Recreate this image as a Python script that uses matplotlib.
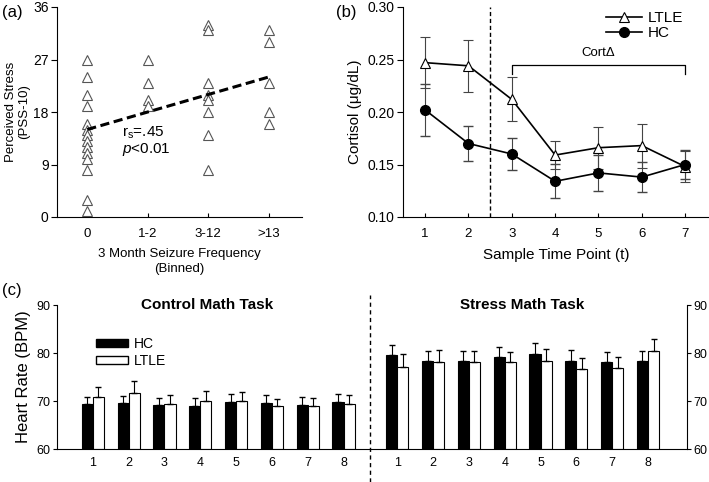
import numpy as np
import matplotlib
matplotlib.use('Agg')
from matplotlib import pyplot as plt
from matplotlib.patches import Patch
from matplotlib.lines import Line2D

plt.rcParams['font.family'] = ['Liberation Sans', 'DejaVu Sans']
plt.rcParams['mathtext.fontset'] = 'custom'
plt.rcParams['mathtext.rm'] = 'Liberation Sans'
plt.rcParams['mathtext.it'] = 'Liberation Sans:italic'

# (a) perceived stress by seizure frequency bin
bins = ['0', '1-2', '3-12', '>13']
pss_0 = [27, 24, 21, 19, 16, 15, 14, 13, 12, 11, 10, 8, 3, 1]
pss_12 = [27, 23, 20, 19]
pss_312 = [33, 32, 23, 21, 20, 18, 14, 8]
pss_13 = [32, 30, 23, 18, 16]
fit_ends = [15.0, 24.0]

# (b) cortisol over sample time points
t_points = [1, 2, 3, 4, 5, 6, 7]
ltle_cort = [0.247, 0.244, 0.212, 0.159, 0.166, 0.168, 0.148]
ltle_cort_err = [0.024, 0.025, 0.021, 0.013, 0.020, 0.021, 0.015]
hc_cort = [0.202, 0.170, 0.160, 0.134, 0.142, 0.138, 0.150]
hc_cort_err = [0.025, 0.017, 0.015, 0.016, 0.017, 0.014, 0.014]

# (c) heart rate during math tasks
blocks = ['1', '2', '3', '4', '5', '6', '7', '8']
hc_ctrl = [69.3, 69.5, 69.1, 69.0, 69.7, 69.5, 69.1, 69.8]
hc_ctrl_err = [1.5, 1.6, 1.6, 1.7, 1.7, 1.75, 1.7, 1.7]
ltle_ctrl = [70.8, 71.7, 69.3, 70.1, 70.1, 68.9, 69.0, 69.4]
ltle_ctrl_err = [2.1, 2.5, 1.9, 2.0, 1.8, 1.6, 1.6, 1.8]
hc_stress = [79.6, 78.4, 78.4, 79.1, 79.7, 78.4, 78.2, 78.4]
hc_stress_err = [2.1, 2.1, 2.1, 2.1, 2.3, 2.2, 2.0, 2.1]
ltle_stress = [77.0, 78.05, 78.05, 78.05, 78.4, 76.7, 76.9, 80.4]
ltle_stress_err = [2.7, 2.6, 2.3, 2.15, 2.4, 2.2, 2.3, 2.6]

W, H = 709, 482
fig = plt.figure(figsize=(W / 100, H / 100), dpi=100)


def box(l, r, t, b):
    return [l / W, 1 - b / H, (r - l) / W, (b - t) / H]


# ---- panel a
ax1 = fig.add_axes(box(57, 302, 7, 217))
for i, vals in enumerate([pss_0, pss_12, pss_312, pss_13]):
    ax1.plot([i] * len(vals), vals, linestyle='none', marker='^', ms=6.5,
             mfc='white', mec='#555555', mew=0.8)
ax1.plot([0, 3], fit_ends, 'k--', lw=2.2, dashes=(3, 1.5))
ax1.text(0.58, 14.4, r'r$_{\mathregular{s}}$=.45', fontsize=11, va='center')
ax1.text(0.58, 11.6, r'$p$<0.01', fontsize=11, va='center')
ax1.set_xlim(-0.5, 3.55)
ax1.set_ylim(0, 36)
ax1.set_yticks([0, 9, 18, 27, 36])
ax1.set_xticks(range(4))
ax1.set_xticklabels(bins)
ax1.spines['top'].set_visible(False)
ax1.spines['right'].set_visible(False)
ax1.tick_params(axis='y', direction='out', length=4, labelsize=10, pad=2)
ax1.tick_params(axis='x', direction='in', length=3, labelsize=9.5, pad=8)
ax1.set_ylabel('Perceived Stress\n(PSS-10)', fontsize=9.5, linespacing=1.1,
               labelpad=2)
ax1.set_xlabel('3 Month Seizure Frequency\n(Binned)', fontsize=9.5,
               linespacing=1.25, labelpad=6)

# ---- panel b
ax2 = fig.add_axes(box(403, 709, 7, 217))
ax2.errorbar(t_points, ltle_cort, yerr=ltle_cort_err, color='k', lw=1.2,
             marker='^', ms=7, mfc='white', mec='k', mew=0.8,
             ecolor='#444444', elinewidth=0.8, capsize=3.5, zorder=3)
ax2.errorbar(t_points, hc_cort, yerr=hc_cort_err, color='k', lw=1.2,
             marker='o', ms=7, mfc='k', mec='k',
             ecolor='#444444', elinewidth=0.8, capsize=3.5, zorder=3)
ax2.axvline(2.5, color='k', ls='--', lw=1, dashes=(3, 2))
ax2.plot([3, 3, 7, 7], [0.2365, 0.245, 0.245, 0.2365], color='k', lw=0.9)
ax2.text(5, 0.2505, 'Cort\u0394', ha='center', va='bottom', fontsize=9.5)
ax2.set_xlim(0.49, 7.55)
ax2.set_ylim(0.10, 0.30)
ax2.set_yticks([0.10, 0.15, 0.20, 0.25, 0.30])
ax2.set_xticks(t_points)
ax2.spines['top'].set_visible(False)
ax2.spines['right'].set_visible(False)
ax2.tick_params(axis='y', direction='out', length=4, labelsize=10, pad=2)
ax2.tick_params(axis='x', direction='in', length=3, labelsize=9.5, pad=8)
ax2.set_ylabel('Cortisol (\u03bcg/dL)', fontsize=11)
ax2.set_xlabel('Sample Time Point (t)', fontsize=11, labelpad=6)
leg_b = [Line2D([], [], color='k', lw=1.2, marker='^', ms=7, mfc='white',
                mec='k', mew=0.8, label='LTLE'),
         Line2D([], [], color='k', lw=1.2, marker='o', ms=7, mfc='k',
                mec='k', label='HC')]
ax2.legend(handles=leg_b, loc='upper left', bbox_to_anchor=(0.665, 0.98),
           frameon=False, fontsize=11, handlelength=2.3, handletextpad=0.4,
           labelspacing=0.05, borderaxespad=0, borderpad=0)

# ---- panel c
ax3 = fig.add_axes(box(57, 687, 305, 449))
ctrl_x = np.arange(8)
stress_x = np.arange(8) + 8.5
bw = 0.31
for xs, hc, hce, lt, lte in [(ctrl_x, hc_ctrl, hc_ctrl_err, ltle_ctrl, ltle_ctrl_err),
                             (stress_x, hc_stress, hc_stress_err, ltle_stress, ltle_stress_err)]:
    ax3.bar(xs - bw / 2, np.array(hc) - 60, bw, bottom=60, color='black',
            edgecolor='black', lw=0.8)
    ax3.bar(xs + bw / 2, np.array(lt) - 60, bw, bottom=60, color='white',
            edgecolor='black', lw=0.8)
    ax3.errorbar(xs - bw / 2, hc, yerr=[np.zeros(8), hce], fmt='none',
                 ecolor='black', elinewidth=0.8, capsize=2.5)
    ax3.errorbar(xs + bw / 2, lt, yerr=[np.zeros(8), lte], fmt='none',
                 ecolor='black', elinewidth=0.8, capsize=2.5)
ax3.plot([7.75, 7.75], [-0.23, 1.07], color='k', ls='--', lw=1,
         dashes=(3, 2.5), transform=ax3.get_xaxis_transform(), clip_on=False)
ax3.text(3.2, 90, 'Control Math Task', ha='center', va='center',
         fontsize=11, fontweight='bold')
ax3.text(12.0, 90, 'Stress Math Task', ha='center', va='center',
         fontsize=11, fontweight='bold')
ax3.set_xlim(-1.0, 16.59)
ax3.set_ylim(60, 90)
ax3.set_yticks([60, 70, 80, 90])
ax3.set_xticks(np.concatenate([ctrl_x, stress_x]))
ax3.set_xticklabels(blocks + blocks)
ax3.spines['top'].set_visible(False)
ax3.tick_params(axis='y', direction='out', length=3, labelsize=9, pad=1.5,
                right=True, labelright=True)
ax3.tick_params(axis='x', length=0, labelsize=9, pad=6)
ax3.set_ylabel('Heart Rate (BPM)', fontsize=12)
handles = [Patch(facecolor='black', edgecolor='black', label='HC'),
           Patch(facecolor='white', edgecolor='black', label='LTLE')]
ax3.legend(handles=handles, loc='upper left',
           bbox_to_anchor=((96 - 57) / 630, (449 - 337) / 144), frameon=False,
           fontsize=10, handlelength=2.3, handleheight=0.55, handletextpad=0.4,
           labelspacing=0.2, borderaxespad=0, borderpad=0)

fig.text(2 / W, 1 - 13 / H, '(a)', fontsize=12, va='center')
fig.text(336 / W, 1 - 13 / H, '(b)', fontsize=12, va='center')
fig.text(2 / W, 1 - 290 / H, '(c)', fontsize=12, va='center')

fig.savefig('out.png', dpi=100)
